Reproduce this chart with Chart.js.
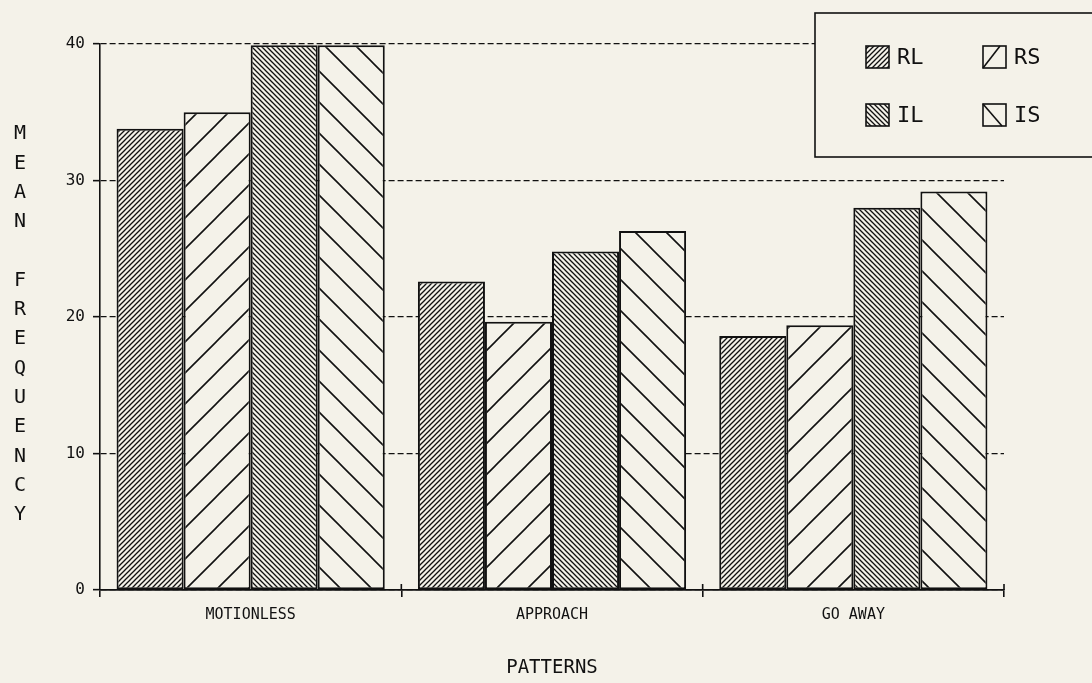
<!DOCTYPE html>
<html>
<head>
<meta charset="utf-8">
<script src="https://cdn.jsdelivr.net/npm/chart.js@4.4.1/dist/chart.umd.min.js"></script>
<style>
  html, body { margin: 0; padding: 0; background: #f4f2e9; }
  #wrap { width: 1092px; height: 683px; position: relative; }
</style>
</head>
<body>
<div id="wrap"><canvas id="freq-chart"></canvas></div>
<script>
const patterns = ["MOTIONLESS", "APPROACH", "GO AWAY"];
const seriesNames = ["RL", "RS", "IL", "IS"];
const rlValues = [33.8, 22.6, 18.6];
const rsValues = [35.0, 19.65, 19.4];
const ilValues = [39.9, 24.8, 28.0];
const isValues = [39.9, 26.3, 29.2];
const yTicks = [0, 10, 20, 30, 40];
const yTitle = "MEAN FREQUENCY";
const xTitle = "PATTERNS";

const BG = "#f4f2e9";
const INK = "#111111";
const MONO = "'DejaVu Sans Mono', 'Liberation Mono', monospace";

const canvas = document.getElementById("freq-chart");
const ctx = canvas.getContext("2d");

// diagonal hatch tile, "/" or "\"
function hatch(period, dir, width) {
    const c = document.createElement("canvas");
    c.width = period;
    c.height = period;
    const g = c.getContext("2d");
    const p = period;
    g.fillStyle = BG;
    g.fillRect(0, 0, p, p);
    g.strokeStyle = INK;
    g.lineWidth = width;
    g.beginPath();
    if (dir === "/") {
        g.moveTo(-1, p + 1); g.lineTo(p + 1, -1);
        g.moveTo(-2, 2); g.lineTo(2, -2);
        g.moveTo(p - 2, p + 2); g.lineTo(p + 2, p - 2);
    } else {
        g.moveTo(-1, -1); g.lineTo(p + 1, p + 1);
        g.moveTo(p - 2, -2); g.lineTo(p + 2, 2);
        g.moveTo(-2, p - 2); g.lineTo(2, p + 2);
    }
    g.stroke();
    return ctx.createPattern(c, "repeat");
}

const fills = [
    hatch(5, "/", 1.3),
    hatch(31, "/", 1.6),
    hatch(5, "\\", 1.3),
    hatch(31, "\\", 1.6)
];
const values = [rlValues, rsValues, ilValues, isValues];

const legendBox = {
    id: "legendBox",
    afterDatasetsDraw(chart) {
        const c = chart.ctx;
        c.save();
        c.fillStyle = BG;
        c.strokeStyle = INK;
        c.lineWidth = 1.6;
        c.fillRect(815, 13, 290, 144);
        c.strokeRect(815, 13, 290, 144);
        const spots = [[866, 46], [983, 46], [866, 104], [983, 104]];
        chart.data.datasets.forEach((ds, i) => {
            const [sx, sy] = spots[i];
            const w = 23, h = 22;
            c.fillStyle = i % 2 === 0 ? ds.backgroundColor : BG;
            c.fillRect(sx, sy, w, h);
            c.lineWidth = 1.6;
            c.strokeRect(sx, sy, w, h);
            if (i === 1) {
                c.beginPath(); c.moveTo(sx, sy + h); c.lineTo(sx + 17, sy); c.stroke();
            } else if (i === 3) {
                c.beginPath(); c.moveTo(sx, sy); c.lineTo(sx + 19, sy + h); c.stroke();
            }
            c.fillStyle = INK;
            c.font = "22px " + MONO;
            c.textBaseline = "middle";
            c.textAlign = "left";
            c.fillText(ds.label, sx + 31, sy + h / 2 + 1);
        });
        c.restore();
    }
};

const crossTicks = {
    id: "crossTicks",
    afterDraw(chart) {
        const x = chart.scales.x;
        const c = chart.ctx;
        const half = (x.getPixelForValue(1) - x.getPixelForValue(0)) / 2;
        c.save();
        c.strokeStyle = INK;
        c.lineWidth = 1.6;
        c.beginPath();
        for (let i = 1; i <= patterns.length; i++) {
            const px = x.getPixelForValue(i - 1) + half;
            c.moveTo(px, x.top - 6);
            c.lineTo(px, x.top);
        }
        c.stroke();
        // stacked vertical y title
        c.fillStyle = INK;
        c.font = "20px " + MONO;
        c.textAlign = "center";
        c.textBaseline = "middle";
        const letters = yTitle.split("");
        letters.forEach((ch, i) => {
            c.fillText(ch, 20, 134 + i * 29.3);
        });
        c.restore();
    }
};

new Chart(ctx, {
    type: "bar",
    data: {
        labels: patterns,
        datasets: seriesNames.map((name, i) => ({
            label: name,
            data: values[i],
            backgroundColor: fills[i],
            borderColor: INK,
            borderWidth: 2,
            borderSkipped: false,
            categoryPercentage: 0.89,
            barPercentage: 1.0
        }))
    },
    options: {
        responsive: true,
        maintainAspectRatio: false,
        animation: false,
        layout: { padding: { top: 44, right: 88, left: 0, bottom: 0 } },
        plugins: {
            legend: { display: false },
            tooltip: { enabled: false }
        },
        scales: {
            x: {
                grid: {
                    offset: true,
                    drawOnChartArea: false,
                    tickLength: 7,
                    color: INK,
                    lineWidth: 1.6
                },
                border: { color: INK, width: 1.8 },
                ticks: {
                    color: INK,
                    font: { family: MONO, size: 15 },
                    padding: 9
                },
                title: {
                    display: true,
                    text: xTitle,
                    color: INK,
                    font: { family: MONO, size: 19 },
                    padding: { top: 0, bottom: 4 }
                },
                afterFit(s) { s.height = 93; }
            },
            y: {
                min: 0,
                max: 40,
                afterBuildTicks(s) { s.ticks = yTicks.map(v => ({ value: v })); },
                ticks: {
                    color: INK,
                    font: { family: MONO, size: 16 },
                    padding: 8
                },
                grid: {
                    color: INK,
                    lineWidth: 1.3,
                    tickLength: 7,
                    tickColor: INK,
                    tickWidth: 1.6,
                    tickBorderDash: []
                },
                border: { color: INK, width: 1.6, dash: [6, 3] },
                afterFit(s) { s.width = 100; }
            }
        }
    },
    plugins: [legendBox, crossTicks]
});
</script>
</body>
</html>
